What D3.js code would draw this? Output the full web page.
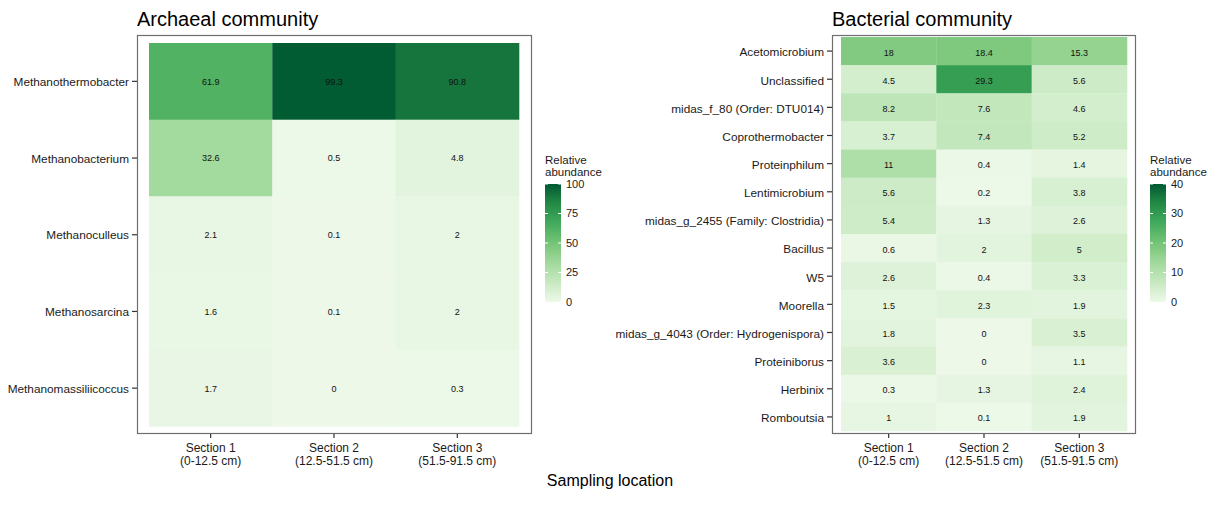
<!DOCTYPE html>
<html>
<head>
<meta charset="utf-8">
<script src="https://cdn.jsdelivr.net/npm/d3@7"></script>
<style>
  html, body { margin: 0; padding: 0; background: #fff; }
  svg { display: block; font-family: "Liberation Sans", Arial, sans-serif; }
</style>
</head>
<body>
<svg id="chart" width="1220" height="510"></svg>
<script>
// ---------------- DATA ----------------
const sections = ["Section 1", "Section 2", "Section 3"];
const sectionDepths = ["(0-12.5 cm)", "(12.5-51.5 cm)", "(51.5-91.5 cm)"];

const archaeaTaxa = ["Methanothermobacter", "Methanobacterium", "Methanoculleus", "Methanosarcina", "Methanomassiliicoccus"];
const archaeaSection1 = [61.9, 32.6, 2.1, 1.6, 1.7];
const archaeaSection2 = [99.3, 0.5, 0.1, 0.1, 0];
const archaeaSection3 = [90.8, 4.8, 2, 2, 0.3];
const archaeaLegendTicks = [0, 25, 50, 75, 100];

const bacteriaTaxa = ["Acetomicrobium", "Unclassified", "midas_f_80 (Order: DTU014)", "Coprothermobacter",
  "Proteinphilum", "Lentimicrobium", "midas_g_2455 (Family: Clostridia)", "Bacillus", "W5", "Moorella",
  "midas_g_4043 (Order: Hydrogenispora)", "Proteiniborus", "Herbinix", "Romboutsia"];
const bacteriaSection1 = [18, 4.5, 8.2, 3.7, 11, 5.6, 5.4, 0.6, 2.6, 1.5, 1.8, 3.6, 0.3, 1];
const bacteriaSection2 = [18.4, 29.3, 7.6, 7.4, 0.4, 0.2, 1.3, 2, 0.4, 2.3, 0, 0, 1.3, 0.1];
const bacteriaSection3 = [15.3, 5.6, 4.6, 5.2, 1.4, 3.8, 2.6, 5, 3.3, 1.9, 3.5, 1.1, 2.4, 1.9];
const bacteriaLegendTicks = [0, 10, 20, 30, 40];

const greens7 = ["#EDF8E9", "#C7E9C0", "#A1D99B", "#74C476", "#41AB5D", "#238B45", "#005A32"];

// ---------------- DRAW ----------------
const svg = d3.select("#chart");
const FONT = '"Liberation Sans", Arial, sans-serif';
const textCol = "#1a1a1a";

function toCells(taxa, cols) {
  const cells = [];
  taxa.forEach((t, i) => {
    cols.forEach((arr, j) => cells.push({ taxon: t, section: sections[j], value: arr[i] }));
  });
  return cells;
}

function makeColor(maxV) {
  const stops = greens7.map((_, i) => maxV * i / (greens7.length - 1));
  return d3.scaleLinear().domain(stops).range(greens7).interpolate(d3.interpolateLab).clamp(true);
}

function drawPanel(cfg) {
  const g = svg.append("g");
  const color = makeColor(cfg.maxV);
  const x = d3.scaleBand().domain(sections).range([cfg.tileL, cfg.tileR]);
  const y = d3.scaleBand().domain(cfg.taxa).range([cfg.tileT, cfg.tileB]);
  const cells = toCells(cfg.taxa, cfg.cols);

  // title
  g.append("text").attr("x", cfg.boxL).attr("y", 26)
    .attr("font-size", 20).attr("fill", "#000").text(cfg.title);

  // tiles
  g.selectAll("rect.tile").data(cells).join("rect")
    .attr("class", "tile")
    .attr("x", d => x(d.section)).attr("y", d => y(d.taxon))
    .attr("width", x.bandwidth() + 0.3).attr("height", y.bandwidth() + 0.3)
    .attr("fill", d => color(d.value));

  g.selectAll("text.val").data(cells).join("text")
    .attr("class", "val")
    .attr("x", d => x(d.section) + x.bandwidth() / 2)
    .attr("y", d => y(d.taxon) + y.bandwidth() / 2)
    .attr("dy", cfg.valDy).attr("text-anchor", "middle")
    .attr("font-size", 9).attr("fill", "#111")
    .text(d => d.value);

  // panel border
  g.append("rect").attr("x", cfg.boxL + 0.5).attr("y", cfg.boxT + 0.5)
    .attr("width", cfg.boxR - cfg.boxL - 1).attr("height", cfg.boxB - cfg.boxT - 1)
    .attr("fill", "none").attr("stroke", "#6e6e6e").attr("stroke-width", 1.2);

  // y axis
  const ya = g.append("g").attr("transform", `translate(${cfg.boxL},0)`)
    .call(d3.axisLeft(y).tickSize(5).tickPadding(3));
  ya.select(".domain").remove();
  ya.selectAll(".tick line").attr("stroke", "#333").attr("stroke-width", 1.2);
  ya.selectAll(".tick text").attr("font-size", 11.8).attr("font-family", FONT)
    .attr("fill", textCol).attr("dy", cfg.labDy);

  // x axis
  const xa = g.append("g").attr("transform", `translate(0,${cfg.boxB})`)
    .call(d3.axisBottom(x).tickSize(4).tickFormat(""));
  xa.select(".domain").remove();
  xa.selectAll(".tick line").attr("stroke", "#333").attr("stroke-width", 1.2);
  xa.selectAll(".tick").each(function (d, i) {
    const t = d3.select(this).append("text")
      .attr("text-anchor", "middle").attr("font-size", 12)
      .attr("font-family", FONT).attr("fill", textCol);
    t.append("tspan").attr("x", 0).attr("y", 17.5).text(d);
    t.append("tspan").attr("x", 0).attr("y", 31).text(sectionDepths[i]);
  });

  // legend
  const lg = g.append("g");
  const lx = cfg.legX, barW = 16, barT = 184, barB = 302;
  lg.append("text").attr("x", lx).attr("y", 164).attr("font-size", 11.5).attr("fill", textCol).text("Relative");
  lg.append("text").attr("x", lx).attr("y", 176).attr("font-size", 11.5).attr("fill", textCol).text("abundance");

  const gradId = "grad" + cfg.id;
  const grad = svg.append("defs").append("linearGradient").attr("id", gradId)
    .attr("x1", 0).attr("y1", 1).attr("x2", 0).attr("y2", 0);
  d3.range(0, 21).forEach(k => {
    const v = cfg.maxV * k / 20;
    grad.append("stop").attr("offset", k / 20).attr("stop-color", color(v));
  });
  lg.append("rect").attr("x", lx).attr("y", barT).attr("width", barW).attr("height", barB - barT)
    .attr("fill", `url(#${gradId})`);

  const ls = d3.scaleLinear().domain([0, cfg.maxV]).range([barB, barT]);
  lg.selectAll("line.tl").data(cfg.legendTicks).join("line").attr("class", "tl")
    .attr("x1", lx).attr("x2", lx + 3).attr("y1", d => ls(d)).attr("y2", d => ls(d))
    .attr("stroke", "#fff").attr("stroke-width", 1);
  lg.selectAll("line.tr").data(cfg.legendTicks).join("line").attr("class", "tr")
    .attr("x1", lx + barW - 3).attr("x2", lx + barW).attr("y1", d => ls(d)).attr("y2", d => ls(d))
    .attr("stroke", "#fff").attr("stroke-width", 1);
  lg.selectAll("text.ll").data(cfg.legendTicks).join("text").attr("class", "ll")
    .attr("x", lx + barW + 5).attr("y", d => ls(d)).attr("dy", "0.35em")
    .attr("font-size", 11).attr("fill", textCol).text(d => d);
}

drawPanel({
  id: "a", title: "Archaeal community", taxa: archaeaTaxa,
  cols: [archaeaSection1, archaeaSection2, archaeaSection3], maxV: 100,
  legendTicks: archaeaLegendTicks,
  boxL: 137, boxR: 532, boxT: 35, boxB: 434,
  tileL: 149, tileR: 519, tileT: 43, tileB: 426.5, legX: 545,
  valDy: "0.38em", labDy: "0.4em"
});

drawPanel({
  id: "b", title: "Bacterial community", taxa: bacteriaTaxa,
  cols: [bacteriaSection1, bacteriaSection2, bacteriaSection3], maxV: 40,
  legendTicks: bacteriaLegendTicks,
  boxL: 832, boxR: 1136, boxT: 35, boxB: 434,
  tileL: 841, tileR: 1127, tileT: 37, tileB: 431, legX: 1150,
  valDy: "0.5em", labDy: "0.45em"
});

svg.append("text").attr("x", 610).attr("y", 486).attr("text-anchor", "middle")
  .attr("font-size", 16).attr("fill", "#000").text("Sampling location");
</script>
</body>
</html>
